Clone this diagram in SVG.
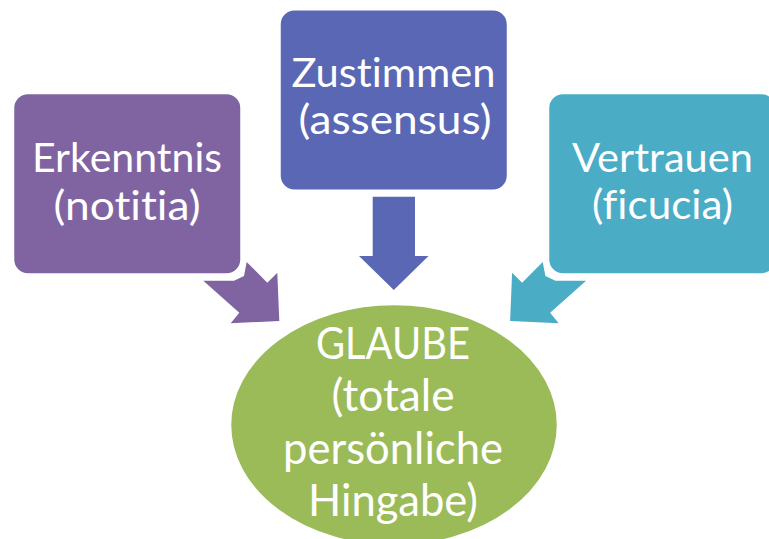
<svg xmlns="http://www.w3.org/2000/svg" width="769" height="539" viewBox="0 0 769 539">
  <style>
    .box { stroke: #ffffff; stroke-width: 2.5; }
    .lbl { font-family: Lato, "Liberation Sans", sans-serif; fill: #ffffff; text-anchor: middle; font-variant-ligatures: none; font-feature-settings: "liga" 0; }
    .small { font-size: 41px; }
    .big { font-size: 44px; }
  </style>
  <rect width="769" height="539" fill="#ffffff"/>

  <!-- block arrows converging on the centre ellipse -->
  <g id="connectors">
    <polygon fill="#8064A2" points="246.7,262 267.3,282.7 277.3,272.7 279.3,321 230.7,323.3 239.3,312.7 203.3,280.7 234,280.7 244,276"/>
    <polygon fill="#5967B4" points="372.7,196.7 415,196.7 415,256 428.5,256 393.8,290 359,256 372.7,256"/>
    <polygon fill="#4BACC6" points="542.7,262 522.1,282.7 512.1,272.7 510.1,321 558.7,323.3 550.1,312.7 586.1,280.7 555.4,280.7 545.4,276"/>
  </g>

  <g id="erkenntnis">
    <rect class="box" x="13" y="93" width="228.5" height="181.5" rx="15" fill="#8064A2"/>
    <text class="lbl small" x="127" y="172" textLength="190" lengthAdjust="spacingAndGlyphs">Erkenntnis</text>
    <text class="lbl small" x="127" y="220" textLength="147" lengthAdjust="spacingAndGlyphs">(notitia)</text>
  </g>

  <g id="zustimmen">
    <rect class="box" x="279.5" y="9.3" width="228.5" height="181.5" rx="15" fill="#5967B4"/>
    <text class="lbl small" x="393.5" y="86.7" textLength="204" lengthAdjust="spacingAndGlyphs">Zustimmen</text>
    <text class="lbl small" x="395" y="134" textLength="193" lengthAdjust="spacingAndGlyphs">(assensus)</text>
  </g>

  <g id="vertrauen">
    <rect class="box" x="548" y="93" width="228.5" height="181.5" rx="15" fill="#4BACC6"/>
    <text class="lbl small" x="662.5" y="171.7" textLength="181" lengthAdjust="spacingAndGlyphs">Vertrauen</text>
    <text class="lbl small" x="662.5" y="219.3" textLength="141" lengthAdjust="spacingAndGlyphs">(ficucia)</text>
  </g>

  <g id="glaube">
    <ellipse class="box" cx="394" cy="425" rx="164" ry="121" fill="#9BBB59"/>
    <text class="lbl big" x="393" y="358.5" textLength="154" lengthAdjust="spacingAndGlyphs">GLAUBE</text>
    <text class="lbl big" x="393" y="411" textLength="123" lengthAdjust="spacingAndGlyphs">(totale</text>
    <text class="lbl big" x="393" y="463.5" textLength="220" lengthAdjust="spacingAndGlyphs">persönliche</text>
    <text class="lbl big" x="393" y="516" textLength="170" lengthAdjust="spacingAndGlyphs">Hingabe)</text>
  </g>
</svg>
